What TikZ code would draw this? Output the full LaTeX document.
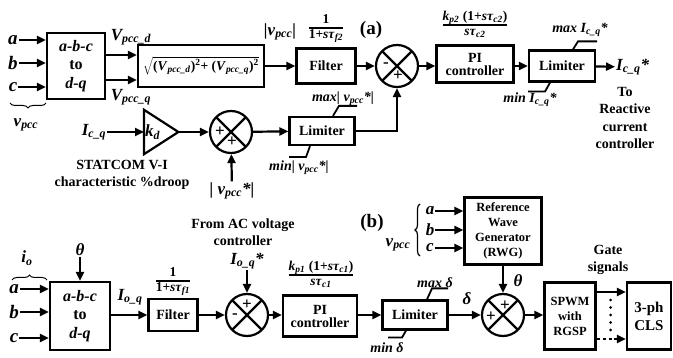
\documentclass[tikz,border=0pt]{standalone}
\usepackage{fontspec}
\setmainfont{Liberation Serif}
\usepackage{tikz}
\usetikzlibrary{positioning, arrows.meta, calc, shapes.geometric, decorations.pathreplacing}
\setlength{\arrayrulewidth}{1.4pt}
\newcommand{\bi}[1]{\textbf{\textit{#1}}}
\newcommand{\tfn}[2]{\begin{tabular}{@{}c@{}}#1\\\hline #2\end{tabular}}

\begin{document}
\begin{tikzpicture}[
    x=1pt, y=-1pt,
    blk/.style={draw, line width=2.2pt, align=center, inner sep=1pt,
                font=\bfseries\fontsize{14}{15}\selectfont},
    dqbox/.style={blk, font=\bfseries\fontsize{16}{18.5}\selectfont},
    sumj/.style={circle, draw, line width=2.2pt, minimum size=42, inner sep=0,
                 path picture={\draw[line width=2.2pt]
                   (path picture bounding box.north west) -- (path picture bounding box.south east)
                   (path picture bounding box.north east) -- (path picture bounding box.south west);}},
    sig/.style={line width=2.2pt, -{Triangle[length=9pt,width=8pt]}},
    lbl/.style={inner sep=1pt, font=\bfseries\itshape\fontsize{17}{18}\selectfont},
    slbl/.style={inner sep=1pt, font=\bfseries\itshape\fontsize{14}{15}\selectfont},
    txt/.style={align=center, inner sep=1pt, font=\bfseries\fontsize{14}{17.5}\selectfont},
    sgn/.style={inner sep=0, font=\bfseries\fontsize{17}{17}\selectfont},
    brc/.style={decorate, decoration={brace, amplitude=5pt}, line width=1pt},
    sat/.style={line width=1.8pt}
]
    \useasboundingbox (0,0) rectangle (673,358);

    % --- (a) AC voltage controller ---
    \node[lbl, font=\bfseries\itshape\fontsize{19}{19}\selectfont] (ta) at (13,40) {a};
    \node[lbl, font=\bfseries\itshape\fontsize{19}{19}\selectfont] (tb) at (13,63) {b};
    \node[lbl, font=\bfseries\itshape\fontsize{19}{19}\selectfont] (tc) at (13,87) {c};
    \draw[brc] (46,103) -- (10,103);
    \node[lbl] (tvpcc) at (26,125) {v\textsubscript{pcc}};

    \node[dqbox, minimum width=58, minimum height=66] (tdq) at (76,66) {\bi{a-b-c}\\to\\\bi{d-q}};
    \node[blk, minimum width=126, minimum height=42, font=\bfseries\fontsize{13.5}{14}\selectfont] (sqr) at (201,66)
      {$\sqrt{\hbox{(\bi{V}\textsubscript{\bi{pcc\_d}})\textsuperscript{2}+ (\bi{V}\textsubscript{\bi{pcc\_q}})\textsuperscript{2}}}$};
    \node[blk, minimum width=59, minimum height=35] (tfil) at (326,66) {Filter};
    \node[sumj] (tsum) at (397,66) {};
    \node[blk, minimum width=77, minimum height=37] (tpi) at (475,64) {PI\\[-2pt]controller};
    \node[blk, minimum width=66, minimum height=31] (tlim) at (562,66) {Limiter};
    \node[lbl, anchor=west] (oicq) at (615,67) {I\textsubscript{c\_q}*};

    \node[lbl] (lvd) at (131,37) {V\textsubscript{pcc\_d}};
    \node[lbl] (lvq) at (131,97) {V\textsubscript{pcc\_q}};
    \node[lbl] (lvabs) at (280,32) {|v\textsubscript{pcc}|};
    \node[txt, font=\bfseries\fontsize{13.5}{14}\selectfont] (tf2) at (326,28)
      {\tfn{1}{1+\bi{sτ}\textsubscript{\bi{f2}}}};
    \node[font=\bfseries\fontsize{19}{20}\selectfont] (capa) at (371,30) {(a)};
    \node[txt, font=\bfseries\fontsize{13.5}{14}\selectfont] (tc2) at (475,25)
      {\tfn{\bi{k}\textsubscript{\bi{p2}} (1+\bi{sτ}\textsubscript{\bi{c2}})}{\bi{sτ}\textsubscript{\bi{c2}}}};
    \node[slbl] (maxi) at (580,30) {max I\textsubscript{c\_q}*};
    \node[slbl] (mini) at (530,100) {min I\textsubscript{c\_q}*};
    \node[txt, font=\bfseries\fontsize{14}{17.6}\selectfont] (torc) at (625,118) {To\\Reactive\\current\\controller};

    \coordinate (vd) at ($(tdq.east)+(0,-11)$);
    \coordinate (vq) at ($(tdq.east)+(0,14)$);
    \draw[sig] (ta) -- (ta -| tdq.west);
    \draw[sig] (tb) -- (tb -| tdq.west);
    \draw[sig] (tc) -- (tc -| tdq.west);
    \draw[sig] (vd) -- (vd -| sqr.west);
    \draw[sig] (vq) -- (vq -| sqr.west);
    \draw[sig] (sqr) -- (tfil);
    \draw[sig] (tfil) -- (tsum);
    \draw[sig] (tsum) -- (tsum -| tpi.west);
    \draw[sig] (tlim -| tpi.east) -- (tlim);
    \draw[sig] (tlim) -- (oicq);
    \node[sgn] at ($(tsum)+(-11,-1)$) {-};
    \node[sgn] at ($(tsum)+(1,10)$) {+};
    \draw[sat] ($(tlim.north)+(11,0)$) -- ++(5,-8) -- ++(19,0);
    \draw[sat] ($(tlim.south)+(-12,0)$) -- ++(-5,9) -- ++(-17,0);

    % droop branch
    \node[lbl] (icq) at (94,132) {I\textsubscript{c\_q}};
    \node[minimum width=34, minimum height=44, inner sep=0, anchor=west] (kd) at (144,132) {};
    \draw[line width=2.2pt, line join=miter] (kd.north west) -- (kd.east) -- (kd.south west) -- cycle;
    \node[lbl, anchor=west] (kdt) at (kd.west) {k\textsubscript{d}};
    \node[sumj] (ksum) at (231,132) {};
    \node[blk, minimum width=65, minimum height=28] (klim) at (322,131) {Limiter};
    \node[lbl] (vref) at (232,191) {| v\textsubscript{pcc}*|};
    \node[txt] (stat) at (122,175) {STATCOM V-I\\characteristic \%droop};
    \node[slbl] (maxv) at (343,99) {max| v\textsubscript{pcc}*|};
    \node[slbl] (minv) at (299,168) {min| v\textsubscript{pcc}*|};

    \draw[sig] (icq) -- (kd.west);
    \draw[sig] (kd.east) -- (ksum);
    \draw[sig] (ksum) -- (klim);
    \draw[sig] (vref) -- (ksum);
    \draw[sig] (klim) -| (tsum);
    \node[sgn] at ($(ksum)+(-11,0)$) {+};
    \node[sgn] at ($(ksum)+(1,10)$) {+};
    \draw[sat] ($(klim.north)+(11,0)$) -- ++(6,-10) -- ++(18,0);
    \draw[sat] ($(klim.south)+(-12,0)$) -- ++(-4,11) -- ++(-17,0);

    % --- (b) phase angle controller ---
    \node[txt] (fromac) at (243,232) {From AC voltage\\controller};
    \node[lbl] (io) at (27,258) {i\textsubscript{o}};
    \draw[brc] (12,280) -- (47,280);
    \node[lbl, font=\bfseries\itshape\fontsize{19}{19}\selectfont] (ba) at (14,289) {a};
    \node[lbl, font=\bfseries\itshape\fontsize{19}{19}\selectfont] (bb) at (14,312) {b};
    \node[lbl, font=\bfseries\itshape\fontsize{19}{19}\selectfont] (bc) at (14,338) {c};
    \node[lbl] (th1) at (80,250) {θ};

    \node[dqbox, minimum width=60, minimum height=68] (bdq) at (80,316) {\bi{a-b-c}\\to\\\bi{d-q}};
    \node[blk, minimum width=49, minimum height=32] (bfil) at (173,315) {Filter};
    \node[sumj] (bsum1) at (247,315) {};
    \node[blk, minimum width=74, minimum height=41] (bpi) at (320,316) {PI\\[-2pt]controller};
    \node[blk, minimum width=65, minimum height=29] (blim) at (415,315) {Limiter};
    \node[sumj] (bsum2) at (503,315) {};
    \node[blk, minimum width=77, minimum height=67, font=\bfseries\fontsize{12.5}{15}\selectfont] (rwg) at (503,231)
      {Reference\\Wave\\Generator\\(RWG)};
    \node[blk, minimum width=51, minimum height=67, font=\bfseries\fontsize{12.5}{15}\selectfont] (spwm) at (570,316)
      {SPWM\\with\\RGSP};
    \node[blk, minimum width=44, minimum height=67, font=\bfseries\fontsize{15}{18}\selectfont] (cls) at (649,316) {3-ph\\CLS};

    \node[lbl] (ioq) at (130,297) {I\textsubscript{o\_q}};
    \node[txt, font=\bfseries\fontsize{13.5}{14}\selectfont] (tf1) at (173,281)
      {\tfn{1}{1+\bi{sτ}\textsubscript{\bi{f1}}}};
    \node[lbl] (ioqs) at (247,261) {I\textsubscript{o\_q}*};
    \node[txt, font=\bfseries\fontsize{13.5}{14}\selectfont] (tc1) at (321,275)
      {\tfn{\bi{k}\textsubscript{\bi{p1}} (1+\bi{sτ}\textsubscript{\bi{c1}})}{\bi{sτ}\textsubscript{\bi{c1}}}};
    \node[slbl] (maxd) at (435,283) {max δ};
    \node[slbl] (mind) at (387,348) {min δ};
    \node[lbl] (dlt) at (467,299) {δ};
    \node[lbl] (th2) at (518,281) {θ};
    \node[font=\bfseries\fontsize{19}{20}\selectfont] (capb) at (372,223) {(b)};
    \node[lbl] (ra) at (430,211) {a};
    \node[lbl] (rb) at (430,230) {b};
    \node[lbl] (rc) at (430,248) {c};
    \draw[brc, line width=1.2pt] (420,256) -- (420,204);
    \node[lbl] (rvpcc) at (398,245) {v\textsubscript{pcc}};
    \node[txt] (gate) at (608,260) {Gate\\signals};

    \draw[sig] (ba) -- (ba -| bdq.west);
    \draw[sig] (bb) -- (bb -| bdq.west);
    \draw[sig] (bc) -- (bc -| bdq.west);
    \draw[sig] (th1) -- (bdq);
    \draw[sig] (bdq.east |- bfil) -- (bfil);
    \draw[sig] (bfil) -- (bsum1);
    \draw[sig] (ioqs) -- (bsum1);
    \draw[sig] (bsum1) -- (bsum1 -| bpi.west);
    \draw[sig] (blim -| bpi.east) -- (blim);
    \draw[sig] (blim) -- (bsum2);
    \draw[sig] (rwg) -- (bsum2);
    \draw[sig] (ra) -- (ra -| rwg.west);
    \draw[sig] (rb) -- (rb -| rwg.west);
    \draw[sig] (rc) -- (rc -| rwg.west);
    \draw[sig] (bsum2) -- (bsum2 -| spwm.west);
    \node[sgn] at ($(bsum1)+(0,-10)$) {+};
    \node[sgn] at ($(bsum1)+(-12,1)$) {-};
    \node[sgn] at ($(bsum2)+(2,-9)$) {+};
    \node[sgn] at ($(bsum2)+(-12,2)$) {+};
    \draw[sat] ($(blim.north)+(12,0)$) -- ++(5,-11) -- ++(16,0);
    \draw[sat] ($(blim.south)+(-9,0)$) -- ++(-4,7) -- ++(-14,0);

    % gate signals
    \coordinate (g1) at ($(spwm.east)+(0,-24)$);
    \coordinate (g2) at ($(spwm.east)+(0,23)$);
    \coordinate (g3) at ($(g2)+(17,0)$);
    \draw[sig] (g1) -- (g1 -| cls.west);
    \draw[line width=2.2pt, dash pattern=on 3pt off 3pt] (g2) -- (g3);
    \draw[sig] (g3) -- (g3 -| cls.west);
    \draw[line width=3pt, line cap=round, dash pattern=on 0pt off 7.5pt] ($(g1)+(14,8)$) -- ($(g2)+(14,-6)$);
\end{tikzpicture}
\end{document}
